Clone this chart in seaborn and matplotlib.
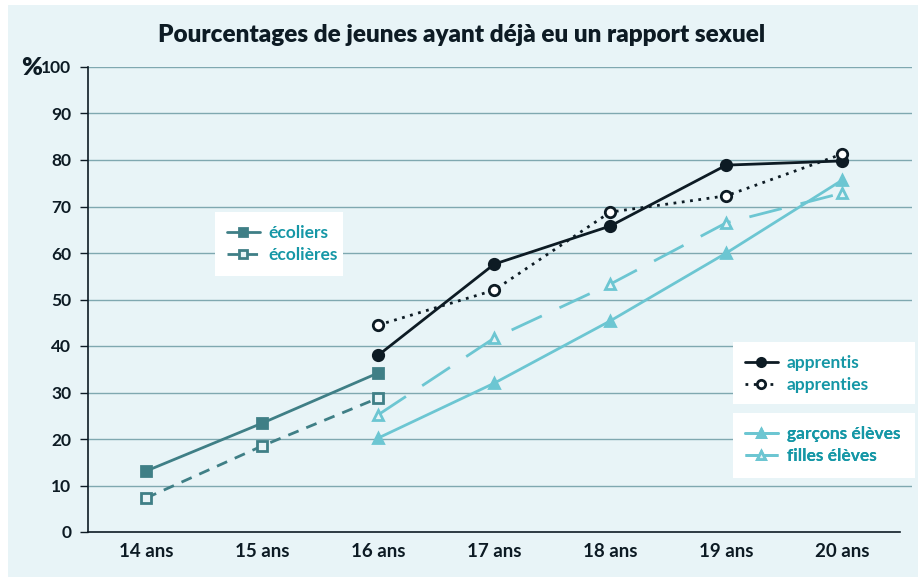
import numpy as np
import pandas as pd
import seaborn as sns
import matplotlib.pyplot as plt
from matplotlib.patches import Rectangle

ages = ['14 ans', '15 ans', '16 ans', '17 ans', '18 ans', '19 ans', '20 ans']
ecoliers = [13.1, 23.4, 34.2]
ecolieres = [7.3, 18.5, 28.8]
apprentis = [38, 57.6, 65.8, 78.9, 79.8]
apprenties = [44.5, 52, 68.8, 72.3, 81.3]
garcons = [20.2, 32, 45.4, 60, 75.7]
filles = [25.2, 41.7, 53.3, 66.5, 72.9]

bg = '#e8f4f7'
dark_teal = '#3f7f86'
light_teal = '#6cc6d2'
black = '#0d1b24'
txt_teal = '#1597a6'
grid = '#7fa8b0'

sns.set_theme(style='white')
plt.rcParams['font.family'] = ['Lato', 'DejaVu Sans']

fig = plt.figure(figsize=(9.22, 5.79), dpi=100, facecolor='white')
fig.patches.append(Rectangle((8 / 922, 2 / 579), 910 / 922, 572 / 579,
                             transform=fig.transFigure, facecolor=bg, edgecolor='none', zorder=-5))
ax = fig.add_axes([88 / 922, 47 / 579, 824 / 922, 465 / 579])
ax.set_facecolor(bg)

x_ecol = np.arange(0, 3)
x_app = np.arange(2, 7)

series = [
    (x_ecol, ecoliers, dark_teal, '-', 's', dark_teal, 'écoliers'),
    (x_ecol, ecolieres, dark_teal, (0, (4, 3)), 's', bg, 'écolières'),
    (x_app, apprentis, black, '-', 'o', black, 'apprentis'),
    (x_app, apprenties, black, (0, (1, 2)), 'o', 'white', 'apprenties'),
    (x_app, garcons, light_teal, '-', '^', light_teal, 'garçons élèves'),
    (x_app, filles, light_teal, (0, (12, 7)), '^', bg, 'filles élèves'),
]
handles = {}
for xs, ys, col, ls, mk, fc, lab in series:
    df = pd.DataFrame({'x': xs, 'y': ys})
    sns.lineplot(data=df, x='x', y='y', ax=ax, color=col, linestyle=ls, linewidth=2,
                 marker=mk, markersize=7.5, markerfacecolor=fc, markeredgecolor=col,
                 markeredgewidth=2, label=lab, legend=False, zorder=3)
    handles[lab] = ax.get_lines()[-1]

ax.set_xlim(-0.5, 6.6)
ax.set_ylim(0, 100)
ax.set_yticks(range(0, 101, 10))
ax.set_yticklabels([str(v) for v in range(0, 101, 10)], fontweight='bold', color=black, fontsize=12.5)
ax.set_xticks(range(7))
ax.set_xticklabels(ages, fontweight='bold', color=black, fontsize=13.5)
ax.set_xticks(np.arange(-0.5, 7, 1), minor=True)
ax.tick_params(axis='x', which='major', length=0, pad=8)
ax.tick_params(axis='x', which='minor', length=13, width=1, color=black, direction='out')
ax.tick_params(axis='y', length=6, width=1, color=black, direction='out', left=True, pad=6)
ax.set_xlabel('')
ax.set_ylabel('')
for y in range(10, 101, 10):
    ax.axhline(y, color=grid, linewidth=1, zorder=1)
for s in ['top', 'right']:
    ax.spines[s].set_visible(False)
ax.spines['left'].set_color(black)
ax.spines['bottom'].set_color(black)
ax.spines['bottom'].set_bounds(-0.5, 6.5)
ax.spines['left'].set_linewidth(1.2)
ax.spines['bottom'].set_linewidth(1.2)

fig.text(21 / 922, 1 - 68 / 579, '%', fontsize=18, fontweight='heavy', color=black, va='center', ha='left')
fig.text(462 / 922, 1 - 35 / 579, 'Pourcentages de jeunes ayant déjà eu un rapport sexuel',
         fontsize=17.5, fontweight='heavy', color=black, ha='center', va='center')


def add_legend(labels, box):
    x0, y0, x1, y1 = box
    ax.add_patch(Rectangle((x0 / 922, 1 - y1 / 579), (x1 - x0) / 922, (y1 - y0) / 579,
                           transform=fig.transFigure, facecolor='white', edgecolor='none',
                           zorder=2, clip_on=False))
    leg = ax.legend([handles[l] for l in labels], labels, loc='upper left',
                    bbox_to_anchor=((x0 - 2) / 922, 1 - (y0 - 1) / 579),
                    bbox_transform=fig.transFigure, frameon=False, handlelength=1.9,
                    handletextpad=0.5, borderpad=0.3, labelspacing=0.35, markerscale=0.8,
                    prop={'weight': 'bold', 'size': 12.5})
    for t in leg.get_texts():
        t.set_color(txt_teal)
    leg.set_zorder(5)
    ax.add_artist(leg)
    return leg


add_legend(['écoliers', 'écolières'], (215, 212, 343, 276))
add_legend(['apprentis', 'apprenties'], (733, 342, 915, 404))
add_legend(['garçons élèves', 'filles élèves'], (733, 413, 915, 478))

fig.savefig('out.png', dpi=100, facecolor='white')
